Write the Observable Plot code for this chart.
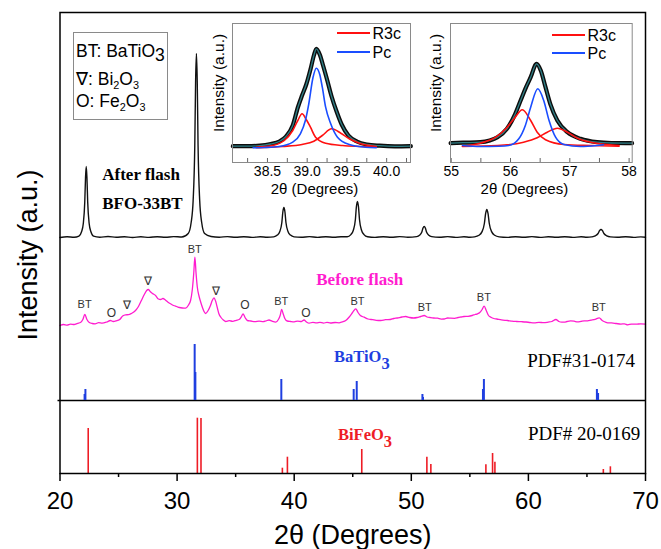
<!DOCTYPE html>
<html><head><meta charset="utf-8">
<script src="https://cdn.jsdelivr.net/npm/d3@7"></script>
<script src="https://cdn.jsdelivr.net/npm/@observablehq/plot@0.6"></script>
<style>
body{margin:0;background:#fff;}
#wrap{position:relative;width:661px;height:549px;overflow:hidden;font-family:Arial,"Liberation Sans",sans-serif;}
#wrap svg{position:absolute;}
.ov{position:absolute;white-space:nowrap;color:#000;}
.sm{font-size:0.62em;position:relative;top:0.35em;}
.big{position:relative;top:0.25em;}
</style></head><body><div id="wrap"></div><script>
// ================= DATA =================
const xTicks = [20, 30, 40, 50, 60, 70];
const xMinorTicks = [25, 35, 45, 55, 65];

// After flash (BFO-33BT), [2θ, intensity a.u. incl. stacking offset]
const afterFlash = [
[20,236],[20.6,236.8],[21.2,236.2],
[21.62,237.4],[21.84,241.7],[21.99,250],[22.115,271.5],[22.18,296],[22.24,307],[22.30,296],[22.365,271.5],[22.49,250],[22.64,241.7],[22.86,237.4],
[23.4,236.3],[24.1,237],[24.8,236.2],[25.5,236.8],[26.2,236],[26.9,236.7],[27.6,236.1],[28.3,236.8],[29,236.2],[29.7,236.9],[30.4,236.5],
[30.95,240],[31.2,251],[31.37,273],[31.51,328],[31.58,392],[31.65,420],[31.72,392],[31.79,328],[31.93,273],[32.1,251],[32.35,240],
[32.9,237],[33.6,236.3],[34.3,236.9],[35,236.2],[35.7,236.8],[36.4,236.1],[37.1,236.7],[37.7,236.2],
[38.25,236.6],[38.56,238.4],[38.77,242],[38.945,251],[39.03,261.5],[39.12,266],[39.21,261.5],[39.295,251],[39.47,242],[39.68,238.4],[39.99,236.6],
[40.6,236.2],[41.3,236.9],[42,236.1],[42.7,236.8],[43.4,236.2],[44,236.7],
[44.53,236.7],[44.84,238.9],[45.05,243.2],[45.225,254],[45.31,266.6],[45.4,272],[45.49,266.6],[45.575,254],[45.75,243.2],[45.96,238.9],[46.27,236.7],
[46.9,236.1],[47.6,236.8],[48.3,236.2],[49,236.9],[49.7,236.3],
[50.46,236.9],[50.7,238.2],[50.9,241.5],[51.0,245.4],[51.1,247],[51.2,245.4],[51.3,241.5],[51.5,238.2],[51.74,236.9],
[52.4,236.2],[53.1,236.9],[53.8,236.1],[54.5,236.7],[55.0,236.2],
[55.4,236.6],[55.78,238.2],[56.03,241.6],[56.24,250],[56.345,259.8],[56.45,264],[56.555,259.8],[56.66,250],[56.87,241.6],[57.12,238.2],[57.5,236.6],
[58.2,236.1],[58.9,236.8],[59.6,236.2],[60.3,236.9],[61,236.1],[61.7,236.7],[62.4,236.2],[63.1,236.8],[63.8,236.1],[64.5,236.7],[65.0,236.2],
[65.4,236.6],[65.7,237.6],[65.95,240],[66.075,242.8],[66.2,244],[66.325,242.8],[66.45,240],[66.7,237.6],[67.0,236.6],
[67.6,236.2],[68.3,236.8],[69,236.1],[69.6,236.6],[70,236.3]
];

// Before flash, [2θ, intensity a.u. incl. stacking offset]
const beforeFlash = [
[20.0,148],[20.3,149],[20.6,148.3],[20.9,149.4],[21.2,149],[21.5,150.2],[21.75,151],[21.95,154],[22.12,159],[22.3,154],[22.5,151],[22.75,150],[23.0,149.7],[23.3,150.8],[23.6,150.3],[24.0,151.5],[24.3,153],[24.55,152],[24.8,152.6],[25.1,154],[25.35,157.5],[25.6,158.7],[25.85,158.8],[26.1,160],[26.45,163],[26.7,167],[26.95,173],[27.2,179],[27.4,183],[27.54,184],[27.7,182],[27.9,180],[28.16,178],[28.4,174.5],[28.6,174],[28.79,175],[29.0,173.5],[29.2,171.5],[29.44,169.7],[29.7,168],[29.95,167],[30.2,166],[30.45,165.5],[30.73,165.3],[30.95,168],[31.15,173],[31.3,184],[31.42,200],[31.52,216.3],[31.62,200],[31.73,186],[31.86,178],[32.0,172],[32.15,166.5],[32.3,162],[32.44,160],[32.65,163],[32.85,168],[33.0,173],[33.15,175.7],[33.3,172],[33.45,165],[33.57,159.7],[33.75,156],[33.95,153.5],[34.15,152],[34.45,152.8],[34.75,152.2],[35.05,153.2],[35.3,154],[35.5,157],[35.63,159.7],[35.8,156],[36.0,153],[36.3,152.5],[36.65,151.8],[37.0,152.3],[37.35,151.8],[37.6,152.6],[37.85,153.5],[38.1,152.3],[38.42,151.3],[38.65,154],[38.8,158],[38.93,164],[39.05,160],[39.2,155],[39.4,152.5],[39.7,152],[40.0,151.7],[40.3,152.4],[40.6,152],[40.84,153.5],[41.05,151.5],[41.27,150.3],[41.6,151.2],[41.9,150.6],[42.2,151.2],[42.5,150.4],[42.8,151.1],[43.1,150.5],[43.5,151],[43.83,150.7],[44.1,151.6],[44.4,153],[44.7,156.5],[44.95,160.5],[45.1,163],[45.26,164.7],[45.45,161],[45.65,158],[45.97,156.3],[46.3,154.5],[46.7,153.8],[47.0,153.2],[47.4,153],[47.8,153.8],[48.2,154],[48.5,155],[48.8,155.5],[49.2,156.5],[49.53,157],[49.85,156],[50.2,155.5],[50.5,156],[50.8,157],[51.1,158],[51.35,156.5],[51.6,156],[51.9,155.5],[52.24,155.3],[52.55,154.4],[52.8,154.5],[53.1,155.5],[53.38,155.3],[53.7,155.2],[54.0,156],[54.25,156.5],[54.5,157],[54.85,157.2],[55.2,158],[55.45,159],[55.66,159.7],[55.85,161],[56.05,164],[56.22,167.3],[56.4,163],[56.6,158],[56.8,156.3],[57.05,155],[57.3,154.5],[57.7,153.6],[58.0,153.2],[58.22,153],[58.6,152.3],[59.0,152],[59.4,151.8],[59.8,151.5],[60.15,151],[60.5,150.7],[60.9,151.2],[61.3,150.8],[61.7,151.4],[62.0,152],[62.35,154],[62.6,152],[62.85,151.3],[63.06,151.3],[63.3,152],[63.6,152.6],[63.9,152.3],[64.2,151.6],[64.5,152.2],[64.77,152.7],[65.05,152.6],[65.35,153.3],[65.7,154.2],[66.05,155.7],[66.3,153],[66.55,151.5],[66.77,150.7],[67.1,150.6],[67.5,150],[67.9,149.4],[68.2,149.7],[68.48,148.7],[68.8,149.4],[69.2,149.3],[69.6,149.7],[70.0,149.3]
];

// Phase markers on the before-flash pattern
const phaseLabelText  = ["BT","O","∇","∇","BT","∇","O","BT","O","BT","BT","BT","BT"];
const phaseLabelTheta = [22.1,24.4,25.7,27.5,31.5,33.3,35.8,38.9,41.0,45.4,51.15,56.2,66.0];
const phaseLabelY     = [169,160,168,192,224,182.3,168,172,160,172.3,166.3,176.3,165.7];

// BaTiO3 reference PDF#31-0174 (relative intensity above its baseline)
const batioBase  = 73;
const batioTheta = [22.1, 22.17, 31.5, 31.56, 38.9, 45.08, 45.34, 50.95, 51.0, 56.12, 56.2, 65.85, 65.95];
const batioI     = [6, 11, 56, 28, 21, 11, 19, 6, 3, 11, 21, 11, 7];

// BiFeO3 reference PDF# 20-0169
const bfoTheta = [22.41, 31.73, 32.04, 38.99, 39.42, 45.77, 51.33, 51.67, 56.37, 56.94, 57.14, 66.4, 67.0];
const bfoI     = [45, 55.3, 55, 5.3, 16.3, 24, 16.3, 9, 8.7, 20, 11.3, 4, 6.7];

// Inset 1 (around 39°)
const inset1Ticks = [38.5, 39.0, 39.5, 40.0];
const inset1Minor = [38.25, 38.5, 38.75, 39.0, 39.25, 39.5, 39.75, 40.0, 40.25];
const inset1Measured = [[38.064,16.3],[38.245,16.3],[38.404,16.8],[38.542,18.5],[38.648,21],[38.733,26],[38.818,37],[38.882,55],[38.935,67],[38.988,78],[39.041,93],[39.084,107],[39.115,113.7],[39.158,108],[39.200,97],[39.253,82],[39.307,66],[39.370,51],[39.434,38],[39.519,27],[39.625,21],[39.752,18],[39.912,16.8],[40.103,16.2],[40.304,16.4]];
const inset1Pc = [[38.319,14.7],[38.457,15],[38.648,16],[38.818,20.3],[38.914,28.7],[38.977,42],[39.020,58.7],[39.073,85],[39.115,94.3],[39.158,88],[39.190,75.3],[39.232,55.3],[39.296,38.7],[39.381,25.3],[39.529,18],[39.731,15.3],[39.869,14.7]];
const inset1R3cA = [[38.362,15.3],[38.563,17],[38.712,22],[38.818,32],[38.882,42],[38.935,48.7],[38.988,43],[39.041,35.3],[39.105,25.3],[39.232,19.3],[39.445,17],[39.657,16],[39.869,15.3]];
const inset1R3cB = [[38.362,14.7],[38.691,16],[38.935,18],[39.084,21.3],[39.190,27],[39.307,33.7],[39.423,29.3],[39.529,23.7],[39.657,19.3],[39.869,16]];

// Inset 2 (around 56.5°)
const inset2Ticks = [55, 56, 57, 58];
const inset2Minor = [55, 55.5, 56, 56.5, 57, 57.5, 58];
const inset2Measured = [[54.99,19.3],[55.2,19.8],[55.49,20.3],[55.65,22],[55.78,25.3],[55.94,33.7],[56.08,48.7],[56.17,62],[56.25,73.7],[56.34,85.3],[56.44,98.7],[56.51,92],[56.59,75.3],[56.67,58.7],[56.79,42],[56.96,30.3],[57.18,23.7],[57.46,20.3],[57.7,19.5],[58.05,19.3]];
const inset2Pc = [[55.19,17],[55.49,16],[55.8,16.3],[55.97,17],[56.14,23.7],[56.25,37],[56.34,55.3],[56.46,73.7],[56.56,62],[56.65,42],[56.76,25.3],[56.9,18],[57.18,16],[57.46,17],[57.57,17.7]];
const inset2R3cA = [[55.19,16.3],[55.49,19.3],[55.75,25.3],[55.92,33.7],[56.06,43.7],[56.2,52.7],[56.34,42],[56.45,30.3],[56.59,22.7],[56.9,18],[57.35,17],[57.83,16.3]];
const inset2R3cB = [[55.19,16],[55.78,17],[56.22,20.3],[56.45,24.7],[56.62,30.3],[56.79,34.3],[56.96,30.3],[57.13,24.3],[57.35,20.3],[57.63,18],[57.83,17]];

// ================= STYLE / LAYOUT =================
const sans = "Arial, 'Liberation Sans', Helvetica, sans-serif";
const serif = "'Times New Roman', 'Liberation Serif', Times, serif";
const MAGENTA = "#ff1ccf", BLUE = "#1f3fe0", RED = "#ee1c25";

const batio = batioTheta.map((t, i) => ({t, i: batioI[i]}));
const bfo = bfoTheta.map((t, i) => ({t, i: bfoI[i]}));
const phaseLabels = phaseLabelText.map((s, i) => ({s, x: phaseLabelTheta[i], y: phaseLabelY[i]}));

function subscripts(svg) {
  svg.querySelectorAll("text").forEach(t => {
    const s = t.textContent;
    if (!s.includes("_")) return;
    t.textContent = "";
    s.split(/_(\d)/).forEach((p, k) => {
      if (!p) return;
      const ts = document.createElementNS("http://www.w3.org/2000/svg", "tspan");
      ts.textContent = p;
      if (k % 2) ts.setAttribute("dy", "0.42em");
      t.appendChild(ts);
    });
  });
}

const wrap = document.getElementById("wrap");

const main = Plot.plot({
  width: 661, height: 549,
  marginLeft: 59.5, marginRight: 16, marginTop: 12, marginBottom: 76,
  x: {domain: [20, 70]},
  y: {domain: [0, 461], axis: null},
  style: {fontFamily: sans, color: "black", background: "transparent", overflow: "visible"},
  marks: [
    Plot.ruleY([batioBase], {stroke: "black", strokeWidth: 1.5, x1: 19.83, x2: 70}),
    Plot.line(afterFlash, {x: d => d[0], y: d => d[1], stroke: "#111", strokeWidth: 1.4, curve: "monotone-x"}),
    Plot.line(beforeFlash, {x: d => d[0], y: d => d[1], stroke: MAGENTA, strokeWidth: 1.3, curve: "monotone-x"}),
    Plot.ruleX(batio, {x: "t", y1: batioBase, y2: d => batioBase + d.i, stroke: BLUE, strokeWidth: 2}),
    Plot.ruleX(bfo, {x: "t", y1: 0, y2: "i", stroke: RED, strokeWidth: 1.6}),
    Plot.frame({stroke: "black", strokeWidth: 1.5}),
    Plot.axisX(xTicks, {tickSize: 8, tickPadding: 10, fontSize: 24, label: null, strokeWidth: 1.5}),
    Plot.axisX(xMinorTicks, {tickSize: 4, tickFormat: () => "", label: null, strokeWidth: 1.5}),
    Plot.text(phaseLabels.filter(d => d.s === "BT"), {x: "x", y: "y", text: "s", fontSize: 11, fill: "#333"}),
    Plot.text(phaseLabels.filter(d => d.s !== "BT"), {x: "x", y: "y", text: "s", fontSize: 12, fill: "#333"}),
    Plot.text(["After flash"], {x: 23.61, y: 299, textAnchor: "start", fontFamily: serif, fontWeight: "bold", fontSize: 17}),
    Plot.text(["BFO-33BT"], {x: 23.61, y: 269.7, textAnchor: "start", fontFamily: serif, fontWeight: "bold", fontSize: 17}),
    Plot.text(["Before flash"], {x: 45.6, y: 194, fontFamily: serif, fontWeight: "bold", fontSize: 17, fill: MAGENTA}),
    Plot.text(["BaTiO_3"], {x: 43.4, y: 116.4, textAnchor: "start", fontFamily: serif, fontWeight: "bold", fontSize: 16.5, fill: BLUE}),
    Plot.text(["PDF#31-0174"], {x: 69.1, y: 113, textAnchor: "end", fontFamily: serif, fontSize: 19}),
    Plot.text(["BiFeO_3"], {x: 43.74, y: 38.4, textAnchor: "start", fontFamily: serif, fontWeight: "bold", fontSize: 16.5, fill: RED}),
    Plot.text(["PDF# 20-0169"], {x: 69.56, y: 39.7, textAnchor: "end", fontFamily: serif, fontSize: 19}),
    Plot.text(["2θ (Degrees)"], {frameAnchor: "bottom", textAnchor: "middle", lineAnchor: "middle", dy: 62, fontSize: 27}),
    Plot.text(["Intensity (a.u.)"], {frameAnchor: "left", textAnchor: "middle", lineAnchor: "middle", rotate: -90, dx: -32, dy: 12, fontSize: 27})
  ]
});
subscripts(main);
main.style.left = "0px"; main.style.top = "0px";
wrap.appendChild(main);

function inset({left, width, mL, mR, domain, ticks, minor, fmt, measured, pc, ra, rb, ylabDx, xlabDx}) {
  const height = 182, mT = 5, mB = 38;
  const svg = Plot.plot({
    width, height, marginLeft: mL, marginRight: mR, marginTop: mT, marginBottom: mB,
    x: {domain},
    y: {domain: [0, 139], axis: null},
    style: {fontFamily: sans, color: "black", background: "transparent", overflow: "visible"},
    marks: [
      Plot.tickX(minor, {x: d => d, insetTop: 135, stroke: "#666"}),
      Plot.line(measured, {x: d => d[0], y: d => d[1], stroke: "#0d0d0d", strokeWidth: 4.2, curve: "monotone-x"}),
      Plot.line(measured, {x: d => d[0], y: d => d[1], stroke: "#2e7f86", strokeWidth: 1.3, curve: "monotone-x"}),
      Plot.line(ra, {x: d => d[0], y: d => d[1], stroke: "#ff1010", strokeWidth: 1.6, curve: "monotone-x"}),
      Plot.line(rb, {x: d => d[0], y: d => d[1], stroke: "#ff1010", strokeWidth: 1.6, curve: "monotone-x"}),
      Plot.line(pc, {x: d => d[0], y: d => d[1], stroke: "#1a4dff", strokeWidth: 1.6, curve: "monotone-x"}),
      Plot.frame({stroke: "#8a8a8a", strokeWidth: 1}),
      Plot.axisX(ticks, {tickSize: 0, tickPadding: 4, fontSize: 14, tickFormat: fmt, label: null}),
      Plot.text(["2θ (Degrees)"], {frameAnchor: "bottom", textAnchor: "middle", lineAnchor: "middle", dx: xlabDx, dy: 27, fontSize: 15}),
      Plot.text(["Intensity (a.u.)"], {frameAnchor: "left", textAnchor: "middle", lineAnchor: "middle", rotate: -90, dx: ylabDx, dy: -10, fontSize: 15.5})
    ]
  });
  svg.style.left = left + "px"; svg.style.top = "18px";
  wrap.appendChild(svg);
}
inset({left: 205, width: 215, mL: 27, mR: 10, domain: [38.06, 40.30], ticks: inset1Ticks, minor: inset1Minor,
  fmt: d3.format(".1f"), measured: inset1Measured, pc: inset1Pc, ra: inset1R3cA, rb: inset1R3cB, ylabDx: -13, xlabDx: -7});
inset({left: 425, width: 215, mL: 25, mR: 8.3, domain: [54.988, 58.052], ticks: inset2Ticks, minor: inset2Minor,
  fmt: d3.format("d"), measured: inset2Measured, pc: inset2Pc, ra: inset2R3cA, rb: inset2R3cB, ylabDx: -14, xlabDx: -17});

// ----- HTML overlays: legend box and inset keys -----
function ov(html, css) {
  const d = document.createElement("div");
  d.className = "ov"; d.innerHTML = html; d.style.cssText += css;
  wrap.appendChild(d);
}
ov("", "left:73px;top:32px;width:93px;height:86px;border:1px solid #8a8a8a;background:#fff;");
ov("BT: BaTiO<span class='big'>3</span>", "left:76px;top:41px;font-size:17.5px;line-height:20px;");
ov("∇: Bi<span class='sm'>2</span>O<span class='sm'>3</span>", "left:76px;top:69px;font-size:17.5px;line-height:20px;");
ov("O: Fe<span class='sm'>2</span>O<span class='sm'>3</span>", "left:76px;top:91px;font-size:17.5px;line-height:20px;");

function key(x1, x2, y, color, label) {
  ov("", `left:${x1}px;top:${y - 1}px;width:${x2 - x1}px;height:2px;background:${color};`);
  ov(label, `left:${x2 + 2.5}px;top:${y - 8.5}px;font-size:16px;line-height:18px;`);
}
key(336.7, 370, 33.3, "#ff1010", "R3c");
key(336.7, 370, 52.3, "#1a4dff", "Pc");
key(551.7, 585, 35, "#ff1010", "R3c");
key(551.7, 585, 53.3, "#1a4dff", "Pc");
</script></body></html>
